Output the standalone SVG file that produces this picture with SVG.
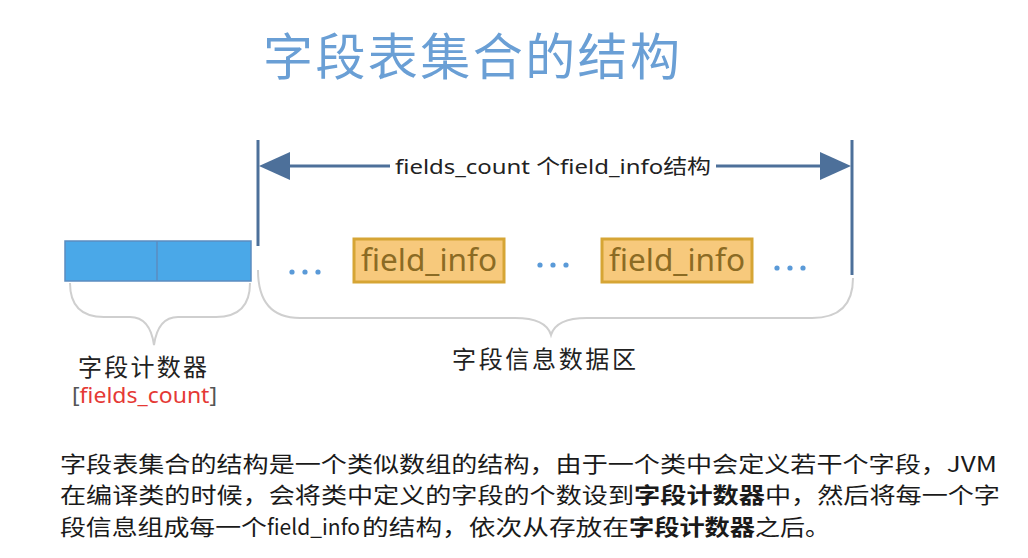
<svg xmlns="http://www.w3.org/2000/svg" width="1028" height="558" viewBox="0 0 1028 558">
<style>
.cjk{font-family:"Noto Sans","Noto Sans CJK SC",sans-serif}
.para{font-family:"Noto Sans CJK SC","Noto Sans",sans-serif;font-size:22px;fill:#1a1a1a}
.b{font-weight:bold}
.brace{fill:none;stroke:#cfcfcf;stroke-width:2}
.fi rect{fill:#f7c97c;stroke:#d6a535;stroke-width:3}
.fi text{font-family:"Noto Sans",sans-serif;font-size:31px;fill:#8b6b24;text-anchor:middle}
.dots circle{fill:#5a9ad8}
.vline{stroke:#4d709a;stroke-width:3}
</style>
<rect width="1028" height="558" fill="#ffffff"/>
<g id="title">
<text class="cjk" x="263" y="75" font-size="50" fill="#6a9fd5" textLength="417" lengthAdjust="spacing">字段表集合的结构</text>
</g>
<g id="connectors">
<line class="vline" x1="258" y1="140" x2="258" y2="246"/>
<line class="vline" x1="852" y1="140" x2="852" y2="275"/>
<line class="vline" x1="285" y1="166" x2="825" y2="166"/>
<polygon points="259,166 290,152 290,180" fill="#4d709a"/>
<polygon points="851,166 820,152 820,180" fill="#4d709a"/>
<rect x="390" y="152" width="326" height="28" fill="#ffffff"/>
<text class="cjk" x="395" y="174" font-size="20" fill="#222" textLength="316" lengthAdjust="spacingAndGlyphs">fields_count 个field_info结构</text>
<path class="brace" d="M70,283 Q70,317 104,317 L130,317 Q150,317 154,345 Q158,317 178,317 L216,317 Q250,317 250,283"/>
<path class="brace" d="M258,270 Q258,318 300,318 L515,318 Q546,318 551,335 Q556,318 587,318 L812,318 Q853,318 853,278"/>
</g>
<g id="counter">
<rect x="65" y="241" width="186" height="40" fill="#4aa8e8" stroke="#5b8cc0" stroke-width="1.5"/>
<line x1="157" y1="241" x2="157" y2="281" stroke="#5b8cc0" stroke-width="1.5"/>
</g>
<g id="counter-label">
<text class="cjk" x="78" y="376" font-size="24" fill="#222" textLength="129" lengthAdjust="spacing">字段计数器</text>
<text class="cjk" x="72" y="403" font-size="21" fill="#555" textLength="145" lengthAdjust="spacingAndGlyphs">[<tspan fill="#e53935">fields_count</tspan>]</text>
</g>
<g id="dots1" class="dots"><circle cx="292" cy="272" r="2.6"/><circle cx="305" cy="272" r="2.6"/><circle cx="318" cy="272" r="2.6"/></g>
<g id="field1" class="fi"><rect x="354" y="239" width="150" height="43"/><text x="429" y="271" textLength="136" lengthAdjust="spacingAndGlyphs">field_info</text></g>
<g id="dots2" class="dots"><circle cx="540" cy="265" r="2.6"/><circle cx="553" cy="265" r="2.6"/><circle cx="566" cy="265" r="2.6"/></g>
<g id="field2" class="fi"><rect x="602" y="239" width="150" height="43"/><text x="677" y="271" textLength="136" lengthAdjust="spacingAndGlyphs">field_info</text></g>
<g id="dots3" class="dots"><circle cx="777" cy="268" r="2.6"/><circle cx="790" cy="268" r="2.6"/><circle cx="803" cy="268" r="2.6"/></g>
<g id="data-label">
<text class="cjk" x="452" y="368" font-size="24" fill="#222" textLength="184" lengthAdjust="spacing">字段信息数据区</text>
</g>
<g id="description">
<text class="para" x="60" y="472" textLength="937" lengthAdjust="spacingAndGlyphs">字段表集合的结构是一个类似数组的结构，由于一个类中会定义若干个字段，JVM</text>
<text class="para" x="60" y="503" textLength="574" lengthAdjust="spacingAndGlyphs">在编译类的时候，会将类中定义的字段的个数设到</text>
<text class="para b" x="634" y="503" textLength="131" lengthAdjust="spacingAndGlyphs">字段计数器</text>
<text class="para" x="765" y="503" textLength="235" lengthAdjust="spacingAndGlyphs">中，然后将每一个字</text>
<text class="para" x="60" y="535" textLength="207" lengthAdjust="spacingAndGlyphs">段信息组成每一个</text>
<text class="para" x="267" y="535" textLength="93" lengthAdjust="spacingAndGlyphs">field_info</text>
<text class="para" x="362" y="535" textLength="267" lengthAdjust="spacingAndGlyphs">的结构，依次从存放在</text>
<text class="para b" x="629" y="535" textLength="126" lengthAdjust="spacingAndGlyphs">字段计数器</text>
<text class="para" x="755" y="535" textLength="75" lengthAdjust="spacingAndGlyphs">之后。</text>
</g>
</svg>
